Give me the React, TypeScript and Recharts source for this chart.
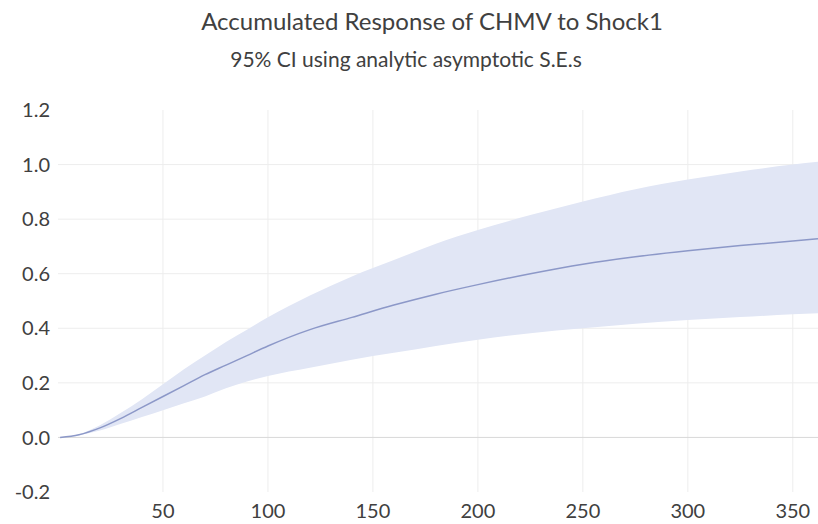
import React from 'react'
import { ComposedChart, Area, Line, XAxis, YAxis, CartesianGrid, ReferenceLine } from 'recharts'

const periods = [1, 10, 20, 30, 40, 50, 60, 70, 80, 90, 100, 120, 140, 160, 180, 200, 225, 250, 275, 300, 325, 350, 362]
const response = [0, 0.01, 0.035, 0.07, 0.11, 0.15, 0.19, 0.23, 0.265, 0.3, 0.335, 0.395, 0.44, 0.485, 0.525, 0.56, 0.6, 0.635, 0.662, 0.684, 0.703, 0.72, 0.728]
const upperCI = [0, 0.012, 0.045, 0.09, 0.14, 0.195, 0.25, 0.3, 0.35, 0.395, 0.44, 0.52, 0.59, 0.65, 0.71, 0.76, 0.815, 0.865, 0.91, 0.945, 0.975, 1.0, 1.01]
const lowerCI = [0, 0.008, 0.025, 0.05, 0.075, 0.1, 0.125, 0.15, 0.18, 0.205, 0.225, 0.255, 0.285, 0.31, 0.335, 0.358, 0.382, 0.4, 0.417, 0.43, 0.441, 0.451, 0.455]

const xTicks = [50, 100, 150, 200, 250, 300, 350]
const yTicks = [-0.2, 0, 0.2, 0.4, 0.6, 0.8, 1.0, 1.2]
const gridY = [0.2, 0.4, 0.6, 0.8, 1.0]

const title = 'Accumulated Response of CHMV to Shock1'
const subtitle = '95% CI using analytic asymptotic S.E.s'

const data = periods.map((p, i) => ({
  period: p,
  mean: response[i],
  band: [lowerCI[i], upperCI[i]],
}))

const font = 'Lato, "Open Sans", sans-serif'
const textColor = '#404040'

export default function App() {
  return (
    <div style={{ position: 'absolute', left: 0, top: 0, width: 818, height: 524, background: '#fff', overflow: 'hidden', fontFamily: font }}>
      {/* title lines are not centred on the same x in the original */}
      <div style={{ position: 'absolute', left: 132, width: 600, top: 6, textAlign: 'center', color: textColor, fontSize: 24, lineHeight: '30px' }}>
        {title}
      </div>
      <div style={{ position: 'absolute', left: 106, width: 600, top: 44, textAlign: 'center', color: textColor, fontSize: 21, lineHeight: '30px' }}>
        {subtitle}
      </div>
      <ComposedChart width={818} height={524} data={data} margin={{ top: 110, right: 0, bottom: 0, left: 0 }}>
        <CartesianGrid stroke="#ededed" horizontalValues={gridY} verticalValues={xTicks} />
        <XAxis
          dataKey="period"
          type="number"
          domain={[0, 362]}
          ticks={xTicks}
          axisLine={false}
          tickLine={false}
          tickSize={0}
          tickMargin={12}
          height={32}
          allowDataOverflow
          tick={{ fill: textColor, fontSize: 20, fontFamily: font }}
        />
        <YAxis
          type="number"
          domain={[-0.2, 1.2]}
          ticks={yTicks}
          tickFormatter={(v: number) => v.toFixed(1)}
          axisLine={false}
          tickLine={false}
          tickSize={0}
          tickMargin={8}
          width={58}
          tick={{ fill: textColor, fontSize: 20, fontFamily: font }}
        />
        <ReferenceLine y={0} stroke="#d9d9d9" />
        <Area type="monotone" dataKey="band" stroke="none" fill="#e1e6f5" fillOpacity={1} isAnimationActive={false} />
        <Line type="monotone" dataKey="mean" stroke="#8c98c8" strokeWidth={1.5} dot={false} isAnimationActive={false} />
      </ComposedChart>
    </div>
  )
}
